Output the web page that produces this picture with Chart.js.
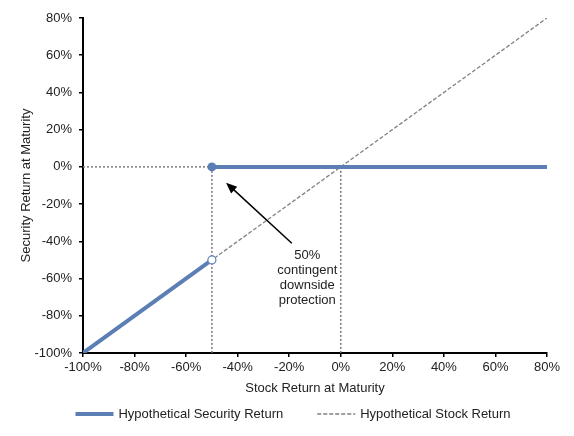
<!DOCTYPE html>
<html>
<head>
<meta charset="utf-8">
<script src="https://cdn.jsdelivr.net/npm/chart.js@4.4.1/dist/chart.umd.min.js"></script>
<style>
    html, body { margin: 0; padding: 0; background: #fff; }
    #wrap { width: 574px; height: 436px; }
</style>
</head>
<body>
<div id="wrap"><canvas id="myChart"></canvas></div>
<script>
'use strict';

// データ
const securityLowX = [-100, -50];
const securityLowY = [-100, -50];
const securityHighX = [-50, 80];
const securityHighY = [0, 0];
const stockX = [-100, 80];
const stockY = [-100, 80];
const barrierX = -50;
const initialX = 0;
const axisMin = -100;
const axisMax = 80;
const axisStep = 20;

const legendLabels = ['Hypothetical Security Return', 'Hypothetical Stock Return'];
const noteLines = ['50%', 'contingent', 'downside', 'protection'];
const arrowFrom = { x: -19, y: -41 };
const arrowTo = { x: -44.5, y: -8.5 };
const noteAt = { x: -13, y: -47.5 };

const BLUE = '#5b7fb5';
const GREY = '#808080';
const DOT = '#7a7a7a';
const FONT = '"Liberation Sans", Arial, sans-serif';
const FSIZE = 13;

function pts(xs, ys) {
    return xs.map((x, i) => ({ x: x, y: ys[i] }));
}

(function () {
    const canvas = document.getElementById('myChart');

    // 注記・凡例
    const overlay = {
        id: 'overlay',
        afterDatasetsDraw(chart) {
            const ctx = chart.ctx;
            const xs = chart.scales.x, ys = chart.scales.y;
            const x1 = xs.getPixelForValue(arrowFrom.x), y1 = ys.getPixelForValue(arrowFrom.y);
            const x2 = xs.getPixelForValue(arrowTo.x), y2 = ys.getPixelForValue(arrowTo.y);
            const a = Math.atan2(y2 - y1, x2 - x1);
            const head = 11, half = 4.5;
            ctx.save();
            ctx.strokeStyle = '#000';
            ctx.fillStyle = '#000';
            ctx.lineWidth = 1.5;
            ctx.beginPath();
            ctx.moveTo(x1, y1);
            ctx.lineTo(x2 - Math.cos(a) * head * 0.8, y2 - Math.sin(a) * head * 0.8);
            ctx.stroke();
            ctx.beginPath();
            ctx.moveTo(x2, y2);
            ctx.lineTo(x2 - Math.cos(a) * head - Math.sin(a) * half, y2 - Math.sin(a) * head + Math.cos(a) * half);
            ctx.lineTo(x2 - Math.cos(a) * head + Math.sin(a) * half, y2 - Math.sin(a) * head - Math.cos(a) * half);
            ctx.closePath();
            ctx.fill();

            ctx.font = FSIZE + 'px ' + FONT;
            ctx.fillStyle = '#222';
            ctx.textAlign = 'center';
            ctx.textBaseline = 'middle';
            const tx = xs.getPixelForValue(noteAt.x);
            const ty = ys.getPixelForValue(noteAt.y);
            noteLines.forEach((t, i) => ctx.fillText(t, tx, ty + i * 15));
            ctx.restore();
        },
        afterDraw(chart) {
            const ctx = chart.ctx;
            const sets = [chart.data.datasets[0], chart.data.datasets[2]];
            ctx.save();
            ctx.font = FSIZE + 'px ' + FONT;
            ctx.textBaseline = 'middle';
            ctx.textAlign = 'left';
            const lineW = 38, gap = 5, itemGap = 34;
            const widths = legendLabels.map(t => lineW + gap + ctx.measureText(t).width);
            const total = widths[0] + itemGap + widths[1];
            let x = 293 - total / 2;
            const y = 414;
            sets.forEach((ds, i) => {
                ctx.beginPath();
                ctx.strokeStyle = ds.borderColor;
                ctx.lineWidth = ds.borderWidth;
                ctx.setLineDash(ds.borderDash || []);
                ctx.moveTo(x, y);
                ctx.lineTo(x + lineW, y);
                ctx.stroke();
                ctx.setLineDash([]);
                ctx.fillStyle = '#222';
                ctx.fillText(legendLabels[i], x + lineW + gap, y);
                x += widths[i] + itemGap;
            });
            ctx.restore();
        }
    };

    const dotted = {
        borderColor: DOT,
        borderWidth: 1.5,
        borderDash: [2, 2],
        pointRadius: 0,
        fill: false
    };

    const config = {
        type: 'line',
        data: {
            datasets: [
                {
                    label: legendLabels[0],
                    data: pts(securityLowX, securityLowY),
                    borderColor: BLUE,
                    borderWidth: 4,
                    pointRadius: [0, 4],
                    pointBackgroundColor: '#fff',
                    pointBorderColor: BLUE,
                    pointBorderWidth: 1.2
                },
                {
                    label: 'high',
                    data: pts(securityHighX, securityHighY),
                    borderColor: BLUE,
                    borderWidth: 4,
                    pointRadius: [4.5, 0],
                    pointBackgroundColor: BLUE,
                    pointBorderColor: BLUE,
                    pointBorderWidth: 0
                },
                {
                    label: legendLabels[1],
                    data: pts(stockX, stockY),
                    borderColor: GREY,
                    borderWidth: 1.3,
                    borderDash: [4, 2],
                    pointRadius: 0
                },
                Object.assign({ label: 'ref0', data: pts([axisMin, barrierX], [0, 0]) }, dotted),
                Object.assign({ label: 'ref1', data: pts([barrierX, barrierX], [0, axisMin]) }, dotted),
                Object.assign({ label: 'ref2', data: pts([initialX, initialX], [0, axisMin]) }, dotted)
            ]
        },
        options: {
            responsive: true,
            maintainAspectRatio: false,
            animation: false,
            layout: { padding: { top: 18, right: 27, bottom: 37, left: 0 } },
            plugins: {
                legend: { display: false },
                tooltip: { enabled: false }
            },
            elements: { line: { tension: 0 } },
            scales: {
                x: {
                    type: 'linear',
                    min: axisMin,
                    max: axisMax,
                    afterFit: s => { s.height = 46; },
                    ticks: {
                        stepSize: axisStep,
                        color: '#222',
                        font: { family: FONT, size: FSIZE },
                        padding: 3,
                        maxRotation: 0,
                        callback: v => v + '%'
                    },
                    grid: { drawOnChartArea: false, drawTicks: true, tickLength: 4, color: '#000', lineWidth: 1.5 },
                    border: { color: '#000', width: 2 },
                    title: {
                        display: true,
                        text: 'Stock Return at Maturity',
                        color: '#222',
                        font: { family: FONT, size: FSIZE },
                        padding: { top: 0, bottom: 3 }
                    }
                },
                y: {
                    type: 'linear',
                    min: axisMin,
                    max: axisMax,
                    afterFit: s => { s.width = 83; },
                    ticks: {
                        stepSize: axisStep,
                        color: '#222',
                        font: { family: FONT, size: FSIZE },
                        padding: 7,
                        callback: v => v + '%'
                    },
                    grid: { drawOnChartArea: false, drawTicks: true, tickLength: 4, color: '#000', lineWidth: 1.5 },
                    border: { color: '#000', width: 2 },
                    title: {
                        display: true,
                        text: 'Security Return at Maturity',
                        color: '#222',
                        font: { family: FONT, size: FSIZE },
                        padding: { top: 19, bottom: 0 }
                    }
                }
            }
        },
        plugins: [overlay]
    };

    new Chart(canvas, config);
})();
</script>
</body>
</html>
